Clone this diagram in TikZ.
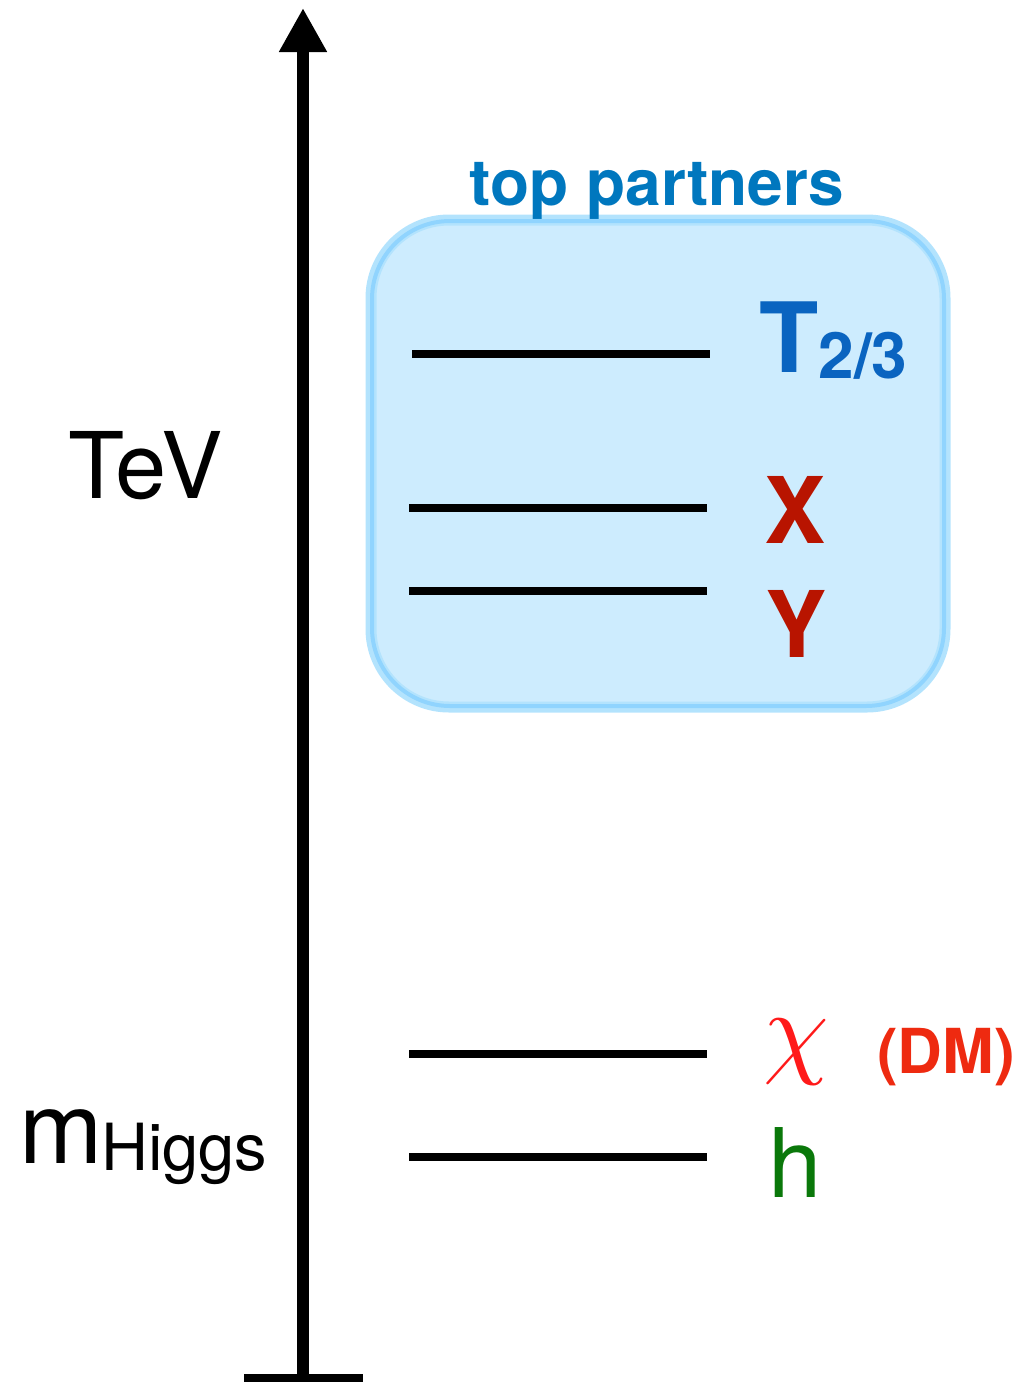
\documentclass[tikz,border=0pt]{standalone}
\usepackage{fontspec}
\setmainfont{TeX Gyre Heros}
\usetikzlibrary{arrows.meta}
\definecolor{tpblue}{HTML}{0077BE}
\definecolor{tblue}{HTML}{0A64C0}
\definecolor{xred}{HTML}{B81400}
\definecolor{chired}{HTML}{FF1A1A}
\definecolor{dmred}{HTML}{EE2A10}
\definecolor{hgreen}{HTML}{0A780A}
\definecolor{boxfill}{HTML}{CDECFE}
\definecolor{boxout}{HTML}{B3E3FD}
\definecolor{boxline}{HTML}{90D4FE}
\tikzset{
  level/.style={line width=8pt},
  lbl/.style={inner sep=0pt, anchor=base west},
}
\newcommand{\fsz}[1]{\fontsize{#1}{#1}\selectfont}
\begin{document}
\begin{tikzpicture}[x=1pt,y=-1pt]
\useasboundingbox (0,0) rectangle (1025,1382);
% box
\path[fill=boxfill, draw=boxout, line width=11pt, rounded corners=78pt] (371,220) rectangle (945,707);
\draw[boxline, line width=4pt, rounded corners=78pt] (372,221) rectangle (944,706);
% axis
\coordinate (axbot) at (303,1378);
\coordinate (axtop) at (303,8);
\coordinate (barl) at (244,1378);
\coordinate (barr) at (363,1378);
\draw[line width=12pt, -{Triangle[length=44pt,width=45pt]}] (axbot) -- (axtop);
\draw[line width=9pt] (barl) -- (barr);
% levels
\coordinate (t1) at (412,354); \coordinate (t2) at (710,354);
\coordinate (x1) at (409,508); \coordinate (x2) at (707,508);
\coordinate (y1) at (409,591); \coordinate (y2) at (707,591);
\coordinate (c1) at (409,1054); \coordinate (c2) at (707,1054);
\coordinate (h1) at (409,1157); \coordinate (h2) at (707,1157);
\draw[level] (t1) -- (t2);
\draw[level] (x1) -- (x2);
\draw[level] (y1) -- (y2);
\draw[level] (c1) -- (c2);
\draw[level] (h1) -- (h2);
% labels
\node[inner sep=0pt, anchor=base, text=tpblue, font=\fsz{64}\bfseries] (tp) at (657,205) {top partners};
\node[lbl, text=tblue, font=\fsz{97}\bfseries] (T) at (759,372) {T\raisebox{-6pt}{\fsz{64}2/3}};
\node[lbl, text=xred, font=\fsz{92}\bfseries] (X) at (764,543) {X};
\node[lbl, text=xred, font=\fsz{92}\bfseries] (Y) at (765,657) {Y};
\node[lbl, text=chired] (chi) at (763,1064) {\scalebox{10.5}{$\chi$}};
\node[lbl, text=dmred, font=\fsz{62}\bfseries] (DM) at (877,1073) {(DM)};
\node[lbl, text=hgreen, font=\fsz{96}] (h) at (768,1197) {h};
\node[lbl, text=black, font=\fsz{92}] (TeV) at (68,498) {TeV};
\node[lbl, text=black, font=\fsz{100}] (m) at (19,1163) {m};
\node[lbl, text=black, font=\fsz{65}] (Higgs) at (101,1170) {Higgs};
\end{tikzpicture}
\end{document}
